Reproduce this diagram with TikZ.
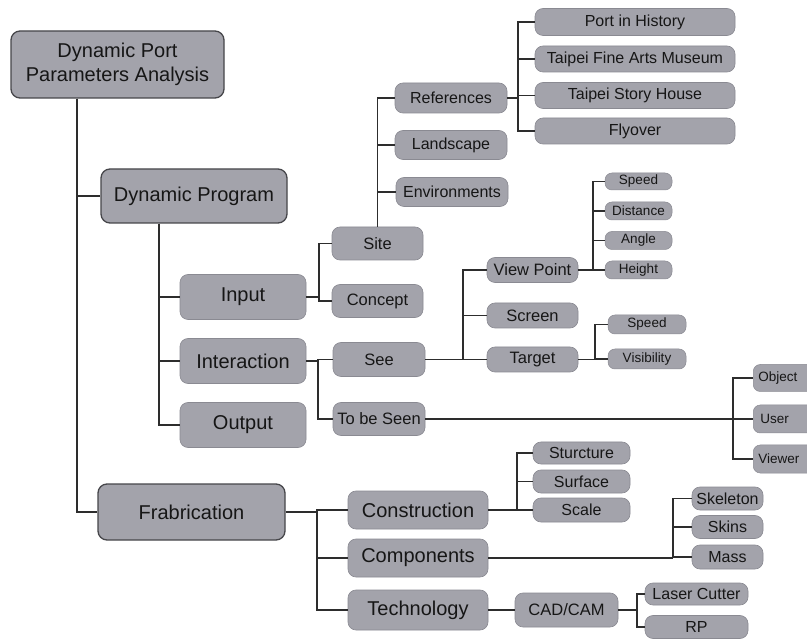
\documentclass[tikz,border=0pt]{standalone}
\usepackage{fontspec}
\setmainfont{Liberation Sans}
\definecolor{boxgray}{RGB}{163,163,171}
\definecolor{mainedge}{RGB}{70,70,74}
\definecolor{softedge}{RGB}{138,138,146}
\definecolor{linec}{RGB}{45,45,45}
\definecolor{txt}{RGB}{22,22,22}
\tikzset{
  basebox/.style={fill=boxgray, text=txt, inner sep=0pt, align=center},
  mainbox/.style={basebox, draw=mainedge, line width=1.3pt, rounded corners=9pt, font=\fontsize{20}{24}\selectfont},
  midbox/.style={basebox, draw=softedge, line width=0.6pt, rounded corners=8pt, font=\fontsize{20}{24}\selectfont},
  smallbox/.style={basebox, draw=softedge, line width=0.6pt, rounded corners=8pt, font=\fontsize{16.5}{20}\selectfont},
  refbox/.style={basebox, draw=softedge, line width=0.6pt, rounded corners=8pt, font=\fontsize{16}{19}\selectfont},
  tinybox/.style={basebox, draw=softedge, line width=0.5pt, rounded corners=7pt, font=\fontsize{13.5}{16}\selectfont},
  conn/.style={draw=linec, line width=1.4pt},
  sz/.style 2 args={minimum width=#1pt, minimum height=#2pt}
}
\begin{document}
\begin{tikzpicture}[x=1pt,y=-1pt]
\clip (0,0) rectangle (807,639);
\fill[white] (0,0) rectangle (807,639);

% level 0-1
\node[mainbox, sz={213}{67}] (root) at (117.5,64.5) {Dynamic Port\\Parameters Analysis};
\node[mainbox, sz={186}{54}] (dp) at (194,196) {Dynamic Program};
\node[mainbox, sz={187}{56}] (fab) at (191.5,512) {Frabrication};

% level 2
\node[midbox, sz={126}{45}] (input) at (243,297) {Input};
\node[midbox, sz={126}{45}] (inter) at (243,361) {Interaction};
\node[midbox, sz={126}{45}] (output) at (243,425) {Output};

\node[midbox, sz={140}{38}] (constr) at (418,510) {Construction};
\node[midbox, sz={140}{38}] (comp) at (418,558) {Components};
\node[midbox, sz={140}{40}] (tech) at (418,610) {Technology};

% level 3
\node[smallbox, sz={91}{33}] (site) at (377.5,243.5) {Site};
\node[smallbox, sz={91}{33}] (concept) at (377.5,301) {Concept};
\node[smallbox, sz={92}{34}] (see) at (379,359.5) {See};
\node[smallbox, sz={92}{33}] (tbs) at (379,419) {To be Seen};

% site children
\node[refbox, sz={112}{30}] (refs) at (451,98) {References};
\node[refbox, sz={112}{29}] (land) at (451,145) {Landscape};
\node[refbox, sz={112}{29}] (env) at (452,192) {Environments};

\node[refbox, sz={200}{27}] (port) at (635,22) {Port in History};
\node[refbox, sz={200}{26}] (tfam) at (635,59) {Taipei Fine Arts Museum};
\node[refbox, sz={200}{26}] (tsh) at (635,95.5) {Taipei Story House};
\node[refbox, sz={200}{26}] (fly) at (635,131) {Flyover};

% see children
\node[smallbox, sz={91}{25}] (vp) at (532.5,270) {View Point};
\node[smallbox, sz={91}{25}] (screen) at (532.5,315.5) {Screen};
\node[smallbox, sz={91}{25}] (target) at (532.5,359.5) {Target};

\node[tinybox, sz={67}{17}] (speedA) at (638.5,181.5) {Speed};
\node[tinybox, sz={67}{18}] (dist) at (638.5,211) {Distance};
\node[tinybox, sz={67}{18}] (angle) at (638.5,240.5) {Angle};
\node[tinybox, sz={67}{18}] (height) at (638.5,270) {Height};

\node[tinybox, sz={78}{19}] (speedB) at (647,324.5) {Speed};
\node[tinybox, sz={78}{20}] (vis) at (647,359) {Visibility};

% to be seen children (cut by right edge)
\node[tinybox, anchor=west, minimum height=27pt, text width=62pt, inner xsep=5pt, align=left] (obj) at (753,378) {Object};
\node[tinybox, anchor=west, minimum height=28pt, text width=62pt, inner xsep=7pt, align=left] (user) at (753,419) {User};
\node[tinybox, anchor=west, minimum height=28pt, text width=62pt, inner xsep=5pt, align=left] (viewer) at (753,459) {Viewer};

% construction children
\node[refbox, sz={97}{22}] (sturc) at (581.5,453) {Sturcture};
\node[refbox, sz={97}{23}] (surf) at (581.5,481.5) {Surface};
\node[refbox, sz={97}{24}] (scale) at (581.5,510) {Scale};

% components children
\node[refbox, sz={71}{23}] (skel) at (727.5,498.5) {Skeleton};
\node[refbox, sz={71}{23}] (skins) at (727.5,527) {Skins};
\node[refbox, sz={71}{24}] (mass) at (727.5,557) {Mass};

% technology children
\node[smallbox, sz={103}{34}] (cad) at (566.5,610) {CAD/CAM};
\node[refbox, sz={103}{22}] (laser) at (696.5,594) {Laser Cutter};
\node[refbox, sz={103}{23}] (rp) at (696.5,627) {RP};

% junction x-positions
\coordinate (jroot) at (77,0);
\coordinate (jdp) at (159,0);
\coordinate (jin) at (319,0);
\coordinate (jint) at (318,0);
\coordinate (jref) at (518,0);
\coordinate (jsee) at (463,0);
\coordinate (jvp) at (593,0);
\coordinate (jtg) at (595,0);
\coordinate (jtbs) at (733,0);
\coordinate (jfab) at (317,0);
\coordinate (jcon) at (517,0);
\coordinate (jcomp) at (673,0);
\coordinate (jcad) at (637,0);

% connectors
\draw[conn] (jroot |- root.south) |- (dp.west);
\draw[conn] (jroot |- root.south) |- (fab.west);

\draw[conn] (jdp |- dp.south) |- (input.west);
\draw[conn] (jdp |- dp.south) |- (inter.west);
\draw[conn] (jdp |- dp.south) |- (output.west);

\draw[conn] (input.east) -- (jin |- input.east) |- (site.west);
\draw[conn] (jin |- input.east) |- (concept.west);

\draw[conn] (inter.east) -- (jint |- inter.east) |- (see.west);
\draw[conn] (jint |- inter.east) |- (tbs.west);

\draw[conn] (site.north) |- (refs.west);
\draw[conn] (site.north) |- (land.west);
\draw[conn] (site.north) |- (env.west);

\draw[conn] (refs.east) -- (jref |- refs.east);
\foreach \c in {port,tfam,tsh,fly}{
  \draw[conn] (jref |- refs.east) |- (\c.west);
}

\draw[conn] (see.east) -- (jsee |- see.east);
\foreach \c in {vp,screen,target}{
  \draw[conn] (jsee |- see.east) |- (\c.west);
}

\draw[conn] (vp.east) -- (jvp |- vp.east);
\foreach \c in {speedA,dist,angle,height}{
  \draw[conn] (jvp |- vp.east) |- (\c.west);
}

\draw[conn] (target.east) -- (jtg |- target.east);
\foreach \c in {speedB,vis}{
  \draw[conn] (jtg |- target.east) |- (\c.west);
}

\draw[conn] (tbs.east) -- (jtbs |- tbs.east);
\foreach \c in {obj,user,viewer}{
  \draw[conn] (jtbs |- tbs.east) |- (\c.west);
}

\draw[conn] (fab.east) -- (jfab |- fab.east);
\foreach \c in {constr,comp,tech}{
  \draw[conn] (jfab |- fab.east) |- (\c.west);
}

\draw[conn] (constr.east) -- (jcon |- constr.east);
\foreach \c in {sturc,surf,scale}{
  \draw[conn] (jcon |- constr.east) |- (\c.west);
}

\draw[conn] (comp.east) -- (jcomp |- comp.east);
\foreach \c in {skel,skins,mass}{
  \draw[conn] (jcomp |- comp.east) |- (\c.west);
}

\draw[conn] (tech.east) -- (cad.west);
\draw[conn] (cad.east) -- (jcad |- cad.east);
\foreach \c in {laser,rp}{
  \draw[conn] (jcad |- cad.east) |- (\c.west);
}
\end{tikzpicture}
\end{document}
